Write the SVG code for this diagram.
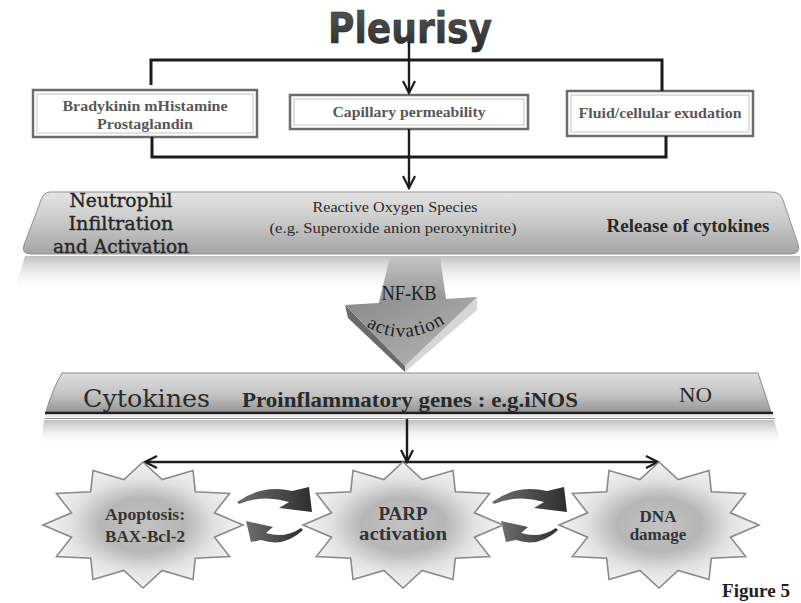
<svg xmlns="http://www.w3.org/2000/svg" width="801" height="603" viewBox="0 0 801 603">
<defs>
<style>
.ln{fill:none;stroke:#1c1c1c;stroke-width:3}
.ar{fill:none;stroke:#1c1c1c;stroke-width:2.4}
.box{fill:#fff;stroke:#6c6c6c;stroke-width:2.5}
.boxin{fill:none;stroke:#c4c4c4;stroke-width:1}
.bt{font-family:"Liberation Serif","Times New Roman",serif;font-weight:bold;font-size:14px;fill:#585858;text-anchor:middle}
.pal{font-family:"DejaVu Serif","Liberation Serif",serif;fill:#262626;stroke:#262626;stroke-width:0.35}
.cyt{font-family:"DejaVu Serif","Liberation Serif",serif;fill:#2a2a2a}
.ser{font-family:"Liberation Serif","Times New Roman",serif;fill:#2a2a2a}
.st{font-family:"Liberation Serif","Times New Roman",serif;font-weight:bold;fill:#333;text-anchor:middle}
.star{stroke:#8a8a8a;stroke-width:1.6}
</style>
<marker id="ah" markerWidth="16" markerHeight="16" refX="14" refY="8" orient="auto-start-reverse" markerUnits="userSpaceOnUse">
<path d="M2,2 L14,8 L2,14" fill="none" stroke="#1c1c1c" stroke-width="2.2"/>
</marker>
<linearGradient id="gBand" x1="0" y1="0" x2="0" y2="1">
<stop offset="0" stop-color="#e4e4e4"/>
<stop offset="0.5" stop-color="#c8c8c8"/>
<stop offset="1" stop-color="#a4a4a4"/>
</linearGradient>
<linearGradient id="gRefl" x1="0" y1="0" x2="0" y2="1">
<stop offset="0" stop-color="#b8b8b8" stop-opacity="0.9"/>
<stop offset="1" stop-color="#ffffff" stop-opacity="0"/>
</linearGradient>
<linearGradient id="gBand2" x1="0" y1="0" x2="0" y2="1">
<stop offset="0" stop-color="#dedede"/>
<stop offset="0.55" stop-color="#c4c4c4"/>
<stop offset="1" stop-color="#969696"/>
</linearGradient>
<linearGradient id="gPl" x1="0" y1="0" x2="0" y2="1">
<stop offset="0" stop-color="#5a5a5a"/>
<stop offset="1" stop-color="#2a2a2a"/>
</linearGradient>
<linearGradient id="gStem" x1="0" y1="0" x2="0" y2="1">
<stop offset="0" stop-color="#c4c4c4"/>
<stop offset="1" stop-color="#8e8e8e"/>
</linearGradient>
<linearGradient id="gFace" x1="0" y1="0" x2="1" y2="1">
<stop offset="0" stop-color="#8a8a8a"/>
<stop offset="1" stop-color="#b8b8b8"/>
</linearGradient>
<linearGradient id="gCurv" x1="0" y1="0" x2="1" y2="0">
<stop offset="0" stop-color="#6e6e6e"/>
<stop offset="1" stop-color="#2e2e2e"/>
</linearGradient>
<radialGradient id="gStar" cx="0.5" cy="0.5" r="0.5">
<stop offset="0" stop-color="#c2c2c2"/>
<stop offset="0.42" stop-color="#b6b6b6"/>
<stop offset="0.72" stop-color="#e2e2e2"/>
<stop offset="1" stop-color="#f3f3f3"/>
</radialGradient>
<path id="starShape" d="M0,-63 L19.15,-45.4 L50,-54.56 L52.33,-33.23 L86.6,-31.5 L71.48,-12.16 L100,0 L71.48,12.16 L86.6,31.5 L52.33,33.23 L50,54.56 L19.15,45.4 L0,63 L-19.15,45.4 L-50,54.56 L-52.33,33.23 L-86.6,31.5 L-71.48,12.16 L-100,0 L-71.48,-12.16 L-86.6,-31.5 L-52.33,-33.23 L-50,-54.56 L-19.15,-45.4 Z"/>
<path id="actPath" d="M352,316 Q404,360 460,312"/>
<g id="curvPair">
<path d="M237,502 Q262,484 292,491 L309,487 L312,512 L279,508 L289,502 Q264,494 239,504 Z" fill="url(#gCurv)"/>
<path d="M303,530 Q284,548 261,540 L251,542 L246,521 L273,527 L266,533 Q285,539 301,528 Z" fill="url(#gCurv)"/>
</g>
</defs>
<rect width="801" height="603" fill="#ffffff"/>

<g id="title">
<text x="410" y="43" font-family="DejaVu Sans, sans-serif" font-weight="bold" font-size="42" textLength="164" lengthAdjust="spacingAndGlyphs" text-anchor="middle" fill="url(#gPl)" stroke="#222" stroke-width="0.6">Pleurisy</text>
</g>

<g id="band1">
<path d="M25,256 L800,256 L800,292 L14,292 Z" fill="url(#gRefl)"/>
<path d="M50,192 L772,192 Q780,192 783,200 L798,244 Q801,254 790,254 L31,254 Q21,254 24,245 L41,200 Q44,192 50,192 Z" fill="url(#gBand)" stroke="#909090" stroke-width="1"/>
<text class="pal" x="121" y="207" font-size="18" text-anchor="middle" textLength="103" lengthAdjust="spacingAndGlyphs">Neutrophil</text>
<text class="pal" x="121" y="230" font-size="18" text-anchor="middle" textLength="105" lengthAdjust="spacingAndGlyphs">Infiltration</text>
<text class="pal" x="121" y="253" font-size="18" text-anchor="middle" textLength="136" lengthAdjust="spacingAndGlyphs">and Activation</text>
<text class="ser" x="395" y="212" font-size="15" text-anchor="middle" textLength="165" lengthAdjust="spacingAndGlyphs">Reactive Oxygen Species</text>
<text class="ser" x="393" y="233" font-size="15" text-anchor="middle" textLength="247" lengthAdjust="spacingAndGlyphs">(e.g. Superoxide anion peroxynitrite)</text>
<text class="ser" x="688" y="232" font-size="18" font-weight="bold" fill="#333" text-anchor="middle" textLength="163" lengthAdjust="spacingAndGlyphs">Release of cytokines</text>
</g>

<g id="nfkb">
<polygon points="390,257 440,257 447,306 378,306" fill="url(#gStem)"/>
<polygon points="345,305 348,318 405,372 405,366" fill="#6a6a6a"/>
<polygon points="477,297 477,310 405,372 405,366" fill="#d6d6d6"/>
<polygon points="345,305 477,297 405,366" fill="url(#gFace)"/>
<text x="409" y="300" font-family="Liberation Serif, serif" font-size="21" fill="#1e1e1e" text-anchor="middle" textLength="55" lengthAdjust="spacingAndGlyphs">NF-KB</text>
<text font-family="Liberation Serif, serif" font-size="19" fill="#1e1e1e" letter-spacing="1"><textPath href="#actPath" startOffset="50%" text-anchor="middle">activation</textPath></text>
</g>

<g id="band2">
<path d="M44,420 L774,420 L782,446 L40,446 Z" fill="url(#gRefl)"/>
<path d="M62,373 L758,373 L771,412 L46,412 Q52,390 62,373 Z" fill="url(#gBand2)" stroke="#8a8a8a" stroke-width="1"/>
<line x1="45" y1="413" x2="773" y2="413" stroke="#1e1e1e" stroke-width="2.5"/>
<line x1="45" y1="416" x2="774" y2="416" stroke="#e0e0e0" stroke-width="1.5"/>
<line x1="45" y1="418.5" x2="775" y2="418.5" stroke="#8a8a8a" stroke-width="1.2"/>
<text class="cyt" x="83" y="407" font-size="24" textLength="127" lengthAdjust="spacingAndGlyphs">Cytokines</text>
<text class="ser" x="242" y="407" font-size="22" font-weight="bold" textLength="336" lengthAdjust="spacingAndGlyphs">Proinflammatory genes : e.g.iNOS</text>
<text class="ser" x="679" y="402" font-size="20" textLength="33" lengthAdjust="spacingAndGlyphs">NO</text>
</g>

<g id="box-bradykinin">
<rect class="box" x="33" y="90" width="224" height="47"/>
<rect class="boxin" x="37" y="94" width="216" height="39"/>
<text class="bt" x="145" y="111" textLength="165" lengthAdjust="spacingAndGlyphs">Bradykinin mHistamine</text>
<text class="bt" x="145" y="129" textLength="96" lengthAdjust="spacingAndGlyphs">Prostaglandin</text>
</g>
<g id="box-capillary">
<rect class="box" x="290" y="95" width="238" height="34"/>
<rect class="boxin" x="294" y="99" width="230" height="26"/>
<text class="bt" x="409" y="117" textLength="153" lengthAdjust="spacingAndGlyphs">Capillary permeability</text>
</g>
<g id="box-fluid">
<rect class="box" x="567" y="91" width="186" height="45"/>
<rect class="boxin" x="571" y="95" width="178" height="37"/>
<text class="bt" x="660" y="118" textLength="163" lengthAdjust="spacingAndGlyphs">Fluid/cellular exudation</text>
</g>

<g id="connectors">
<path class="ln" d="M151,85 V60 H662 V91"/>
<path class="ar" d="M409,42 V93" marker-end="url(#ah)"/>
<path class="ln" d="M152,137 V157 H666 V136"/>
<path class="ar" d="M409,129 V188" marker-end="url(#ah)"/>
<path class="ar" d="M407,419 V462" marker-end="url(#ah)"/>
<path class="ar" d="M145,462 H658" marker-start="url(#ah)" marker-end="url(#ah)"/>
<use href="#curvPair"/>
<use href="#curvPair" transform="translate(255,0)"/>
</g>

<g id="star-apoptosis">
<use href="#starShape" transform="translate(143,525)" fill="url(#gStar)" class="star"/>
<text class="st" x="145" y="520" font-size="17" textLength="80" lengthAdjust="spacingAndGlyphs">Apoptosis:</text>
<text class="st" x="145" y="542" font-size="17" textLength="80" lengthAdjust="spacingAndGlyphs">BAX-Bcl-2</text>
</g>
<g id="star-parp">
<use href="#starShape" transform="translate(403,525)" fill="url(#gStar)" class="star"/>
<text class="st" x="403" y="520" font-size="19">PARP</text>
<text class="st" x="403" y="540" font-size="19" textLength="88" lengthAdjust="spacingAndGlyphs">activation</text>
</g>
<g id="star-dna">
<use href="#starShape" transform="translate(659,525)" fill="url(#gStar)" class="star"/>
<text class="st" x="658" y="522" font-size="17">DNA</text>
<text class="st" x="658" y="540" font-size="17">damage</text>
</g>

<text x="722" y="597" font-family="Liberation Serif, serif" font-weight="bold" font-size="18" fill="#222" textLength="68" lengthAdjust="spacingAndGlyphs">Figure 5</text>
</svg>
